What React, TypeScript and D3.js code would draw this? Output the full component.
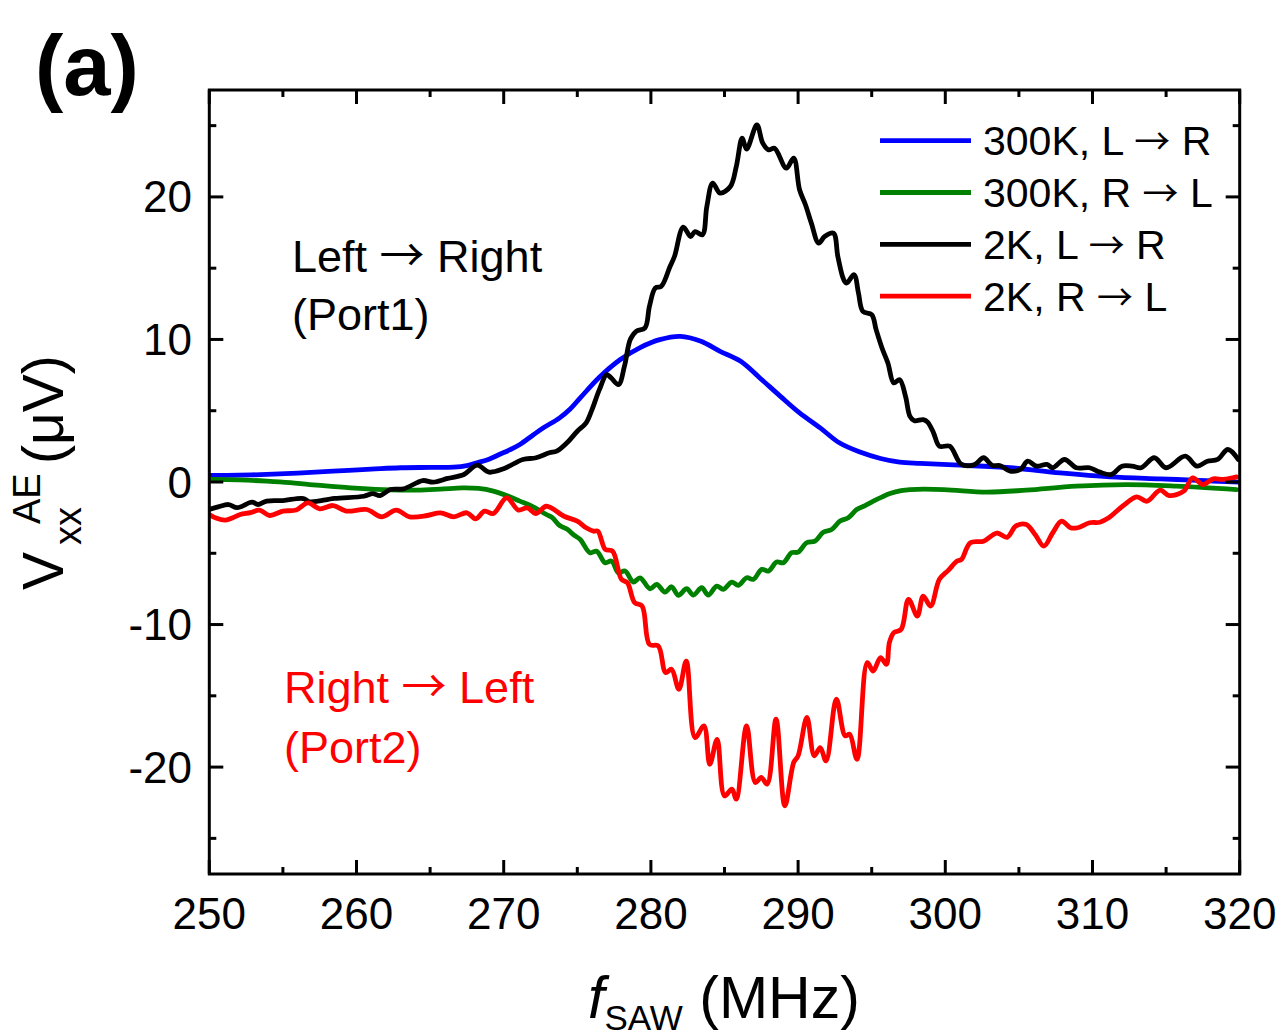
import React from "react";
import * as d3 from "d3";

// SAW-driven acoustoelectric voltage vs. frequency, four configurations.
// Each series: [frequency (MHz), V_xx^AE (µV)]
const blue300KLR: [number, number][] = [
  [250, 0.46], [252, 0.48], [253.9, 0.53], [256, 0.62], [258.4, 0.76], [261, 0.9],
  [263, 1.0], [265, 1.02], [266.6, 1.04], [267.5, 1.15], [268.2, 1.35], [269, 1.6],
  [269.7, 1.93], [270.4, 2.25], [271.1, 2.63], [272.0, 3.3], [272.7, 3.8], [273.8, 4.5],
  [274.5, 5.1], [275.2, 5.9], [276.5, 7.35], [277.9, 8.58], [279.3, 9.45], [280.6, 9.99],
  [282.0, 10.22], [283.4, 9.87], [284.7, 9.17], [286.1, 8.47], [287.4, 7.3], [288.8, 6.01],
  [290.1, 4.85], [291.5, 3.8], [292.8, 2.75], [294.2, 2.1], [295.6, 1.65], [296.9, 1.39],
  [298.3, 1.3], [301.0, 1.18], [304.4, 1.0], [307.8, 0.64], [311.2, 0.36], [314.6, 0.22],
  [316.8, 0.13], [320, -0.01],
];

const green300KRL: [number, number][] = [
  [250, 0.18], [252, 0.15], [253.9, 0.06], [255.5, -0.05], [256.8, -0.18], [258.3, -0.3],
  [259.6, -0.41], [261.8, -0.53], [264.1, -0.57], [265.7, -0.5], [267.2, -0.41], [268.3, -0.45],
  [269.3, -0.64], [270.2, -0.95], [271.1, -1.34], [272.0, -1.74], [272.9, -2.28], [273.3, -2.5],
  [273.8, -3.05], [274.3, -3.3], [274.8, -3.75], [275.2, -4.03], [275.86, -4.96], [276.32, -4.85],
  [276.88, -5.66], [277.33, -5.55], [277.79, -6.37], [278.24, -6.25], [278.81, -7.02], [279.26, -6.72],
  [279.94, -7.49], [280.39, -7.18], [280.96, -7.72], [281.41, -7.35], [281.86, -7.95], [282.43, -7.49],
  [282.88, -7.93], [283.45, -7.42], [283.9, -7.93], [284.47, -7.3], [284.92, -7.53], [285.49, -7.02],
  [285.94, -7.25], [286.51, -6.72], [286.96, -6.83], [287.53, -6.13], [287.98, -6.25], [288.54, -5.62],
  [289.0, -5.66], [289.56, -4.96], [290.0, -4.92], [290.58, -4.26], [291.15, -4.15], [291.71, -3.52],
  [292.28, -3.33], [292.85, -2.74], [293.41, -2.51], [293.98, -1.93], [294.55, -1.65], [295.11, -1.34],
  [295.68, -1.06], [296.24, -0.81], [297.0, -0.6], [297.6, -0.53], [299.9, -0.53], [302.8, -0.71],
  [305.5, -0.57], [308.9, -0.29], [312.3, -0.18], [315.7, -0.29], [319.8, -0.53],
];

const black2KLR: [number, number][] = [
  [250.0, -1.93], [250.6, -1.75], [251.3, -1.58], [251.9, -1.8], [252.9, -1.41], [253.3, -1.58],
  [253.9, -1.34], [255.0, -1.3], [256.4, -1.16], [256.8, -1.39], [258.5, -1.15], [260.5, -1.0],
  [261.1, -0.81], [261.6, -0.95], [262.3, -0.53], [263.2, -0.48], [264.5, 0.1], [265.2, -0.01],
  [266.2, 0.25], [267.3, 0.53], [268.2, 1.18], [269.0, 0.69], [270.0, 0.93], [271.3, 1.58],
  [272.2, 1.7], [273.1, 2.05], [273.6, 2.16], [274.3, 2.75], [275.0, 3.56], [275.6, 4.15],
  [276.0, 5.08], [276.5, 6.48], [277.0, 7.53], [277.3, 7.3], [277.8, 6.83], [278.2, 8.11],
  [278.6, 9.99], [279.0, 10.57], [279.6, 10.81], [279.9, 12.32], [280.3, 13.61], [280.7, 13.72],
  [281.3, 15.12], [281.6, 15.82], [282.2, 17.88], [282.7, 17.22], [283.0, 17.57], [283.5, 17.34],
  [283.8, 19.33], [284.2, 20.97], [284.7, 20.27], [285.4, 20.73], [285.8, 22.13], [286.2, 24.12],
  [286.5, 23.35], [287.2, 25.05], [287.6, 23.77], [288.0, 23.3], [288.4, 23.42], [289.2, 22.02],
  [289.7, 22.72], [290.1, 20.5], [290.5, 19.45], [290.9, 18.16], [291.4, 16.76], [291.8, 17.22],
  [292.4, 17.46], [292.7, 15.82], [293.1, 14.19], [293.3, 13.96], [293.8, 14.54], [294.1, 13.26],
  [294.4, 11.97], [295.0, 11.74], [295.3, 10.69], [295.7, 9.4], [296.1, 8.35], [296.5, 6.95],
  [296.9, 7.18], [297.3, 6.0], [297.6, 4.61], [297.9, 4.3], [298.5, 4.38], [298.8, 4.2],
  [299.2, 3.45], [299.6, 2.51], [300.3, 2.51], [301.1, 1.23], [302.0, 1.23], [302.6, 1.7],
  [303.2, 1.16], [303.7, 1.16], [304.4, 0.76], [305.1, 0.88], [305.6, 1.46], [306.2, 1.11],
  [306.9, 1.23], [307.3, 1.0], [308.1, 1.58], [308.9, 1.0], [309.8, 1.0], [310.5, 0.69],
  [311.3, 0.53], [312.0, 1.11], [312.7, 1.11], [313.3, 1.0], [314.2, 1.7], [315.0, 1.0],
  [316.3, 1.81], [317.1, 1.11], [317.8, 1.46], [318.5, 1.58], [319.2, 2.28], [319.9, 1.58],
];

const red2KRL: [number, number][] = [
  [250.0, -2.28], [250.5, -2.55], [251.1, -2.67], [251.6, -2.5], [252.1, -2.28], [252.8, -2.15],
  [253.4, -1.97], [254.1, -2.35], [255.0, -2.04], [255.9, -1.97], [256.7, -1.46], [257.5, -1.88],
  [258.4, -1.65], [259.3, -2.04], [260.7, -1.93], [261.7, -2.44], [262.7, -1.97], [263.6, -2.44],
  [264.8, -2.35], [265.7, -2.16], [266.6, -2.44], [267.5, -2.16], [268.1, -2.58], [268.7, -2.04],
  [269.3, -2.21], [270.2, -1.11], [271.0, -1.97], [271.6, -1.81], [272.2, -2.21], [272.9, -1.7],
  [274.1, -2.4], [275.0, -2.75], [275.6, -3.21], [276.1, -3.45], [276.4, -3.45], [276.9, -4.73],
  [277.4, -4.85], [278.0, -6.83], [278.4, -7.06], [278.9, -8.47], [279.4, -8.7], [279.9, -11.39],
  [280.5, -11.51], [281.0, -13.37], [281.4, -13.14], [281.9, -14.54], [282.4, -12.56], [283.0, -17.93],
  [283.6, -17.11], [284.0, -19.8], [284.5, -18.05], [285.0, -22.02], [285.5, -21.55], [285.8, -22.25],
  [286.5, -17.11], [287.1, -21.08], [287.5, -20.73], [287.9, -21.2], [288.5, -16.64], [289.1, -22.72],
  [289.7, -19.68], [290.0, -19.21], [290.6, -16.52], [291.1, -19.21], [291.5, -18.63], [291.9, -19.57],
  [292.6, -15.24], [293.2, -17.81], [293.5, -17.69], [294.0, -19.45], [294.7, -12.67], [295.1, -13.26],
  [295.6, -12.32], [296.0, -12.79], [296.2, -11.27], [296.5, -10.57], [297.0, -10.34], [297.5, -8.23],
  [298.1, -9.4], [298.5, -8.0], [299.0, -8.7], [299.6, -6.83], [300.2, -6.2], [300.8, -5.55],
  [301.1, -5.43], [301.7, -4.26], [302.6, -4.15], [303.5, -3.58], [304.2, -3.88], [304.8, -3.08],
  [305.5, -2.98], [306.1, -3.68], [306.7, -4.5], [307.3, -3.56], [307.9, -2.75], [308.5, -3.21],
  [309.0, -3.21], [309.8, -2.86], [310.5, -2.82], [311.1, -2.51], [312.1, -1.65], [313.0, -1.04],
  [313.7, -1.35], [314.6, -0.57], [315.2, -0.95], [316.2, -0.64], [316.8, 0.29], [317.5, -0.18],
  [318.2, 0.22], [318.9, 0.18], [319.8, 0.36],
];

const seriesLabels: [string, string][] = [
  ["300K, L", "R"],
  ["300K, R", "L"],
  ["2K, L", "R"],
  ["2K, R", "L"],
];
const seriesColors = ["#0000ff", "#008000", "#000000", "#ff0000"];
const seriesData = [blue300KLR, green300KRL, black2KLR, red2KRL];

const xMajorTicks = [250, 260, 270, 280, 290, 300, 310, 320];
const xMinorTicks = [255, 265, 275, 285, 295, 305, 315];
const yMajorTicks = [-20, -10, 0, 10, 20];
const yMinorTicks = [-25, -15, -5, 5, 15, 25];

const FONT = "'Liberation Sans', Arial, Helvetica, sans-serif";
const ARROW_FONT = "'Noto Sans CJK SC', 'DejaVu Sans', sans-serif";
const ARROW = "\u2192";

function Arrow({ size }: { size: number }) {
  return (
    <tspan fontFamily={ARROW_FONT} fontSize={size}>
      {ARROW}
    </tspan>
  );
}

export default function App() {
  const left = 209.3, right = 1239.7, top = 90, bottom = 874;
  const x = d3.scaleLinear().domain([250, 320]).range([left, right]);
  const y = d3.scaleLinear().domain([-27.5, 27.5]).range([bottom, top]);
  const line = d3
    .line<[number, number]>()
    .x((d) => x(d[0]))
    .y((d) => y(d[1]))
    .curve(d3.curveCatmullRom.alpha(0.5));

  const majorLen = 14;
  const minorLen = 7;
  const tickW = 3;

  return (
    <svg
      width={1281}
      height={1036}
      style={{ position: "absolute", left: 0, top: 0, background: "#fff" }}
      fontFamily={FONT}
    >
      <defs>
        <clipPath id="plotClip">
          <rect x={left} y={top} width={right - left} height={bottom - top} />
        </clipPath>
      </defs>
      <rect x={0} y={0} width={1281} height={1036} fill="#fff" />

      {/* data lines */}
      <g clipPath="url(#plotClip)">
        {seriesData.map((s, i) => (
          <path
            key={i}
            d={line(s) || ""}
            fill="none"
            stroke={seriesColors[i]}
            strokeWidth={4.8}
            strokeLinejoin="round"
            strokeLinecap="round"
          />
        ))}
      </g>

      {/* ticks on all four sides, pointing inward */}
      <g stroke="#000" strokeWidth={tickW}>
        {xMajorTicks.map((t) => (
          <g key={"xM" + t}>
            <line x1={x(t)} x2={x(t)} y1={bottom} y2={bottom - majorLen} />
            <line x1={x(t)} x2={x(t)} y1={top} y2={top + majorLen} />
          </g>
        ))}
        {xMinorTicks.map((t) => (
          <g key={"xm" + t}>
            <line x1={x(t)} x2={x(t)} y1={bottom} y2={bottom - minorLen} />
            <line x1={x(t)} x2={x(t)} y1={top} y2={top + minorLen} />
          </g>
        ))}
        {yMajorTicks.map((t) => (
          <g key={"yM" + t}>
            <line x1={left} x2={left + majorLen} y1={y(t)} y2={y(t)} />
            <line x1={right} x2={right - majorLen} y1={y(t)} y2={y(t)} />
          </g>
        ))}
        {yMinorTicks.map((t) => (
          <g key={"ym" + t}>
            <line x1={left} x2={left + minorLen} y1={y(t)} y2={y(t)} />
            <line x1={right} x2={right - minorLen} y1={y(t)} y2={y(t)} />
          </g>
        ))}
      </g>

      {/* frame */}
      <rect
        x={left}
        y={top}
        width={right - left}
        height={bottom - top}
        fill="none"
        stroke="#000"
        strokeWidth={3}
      />

      {/* tick labels */}
      <g fontSize={44} fill="#000">
        {xMajorTicks.map((t) => (
          <text key={"xl" + t} x={x(t)} y={929} textAnchor="middle">
            {t}
          </text>
        ))}
        {yMajorTicks.map((t) => (
          <text key={"yl" + t} x={192} y={y(t) + 15.5} textAnchor="end">
            {t}
          </text>
        ))}
      </g>

      {/* axis titles */}
      <text x={588} y={1018} fontSize={59} fill="#000">
        <tspan fontStyle="italic">f</tspan>
        <tspan fontSize={35} dy={12}>SAW</tspan>
        <tspan dy={-12}> (MHz)</tspan>
      </text>
      <g transform="rotate(-90)" fill="#000">
        <text x={-590} y={63} fontSize={57}>V</text>
        <text x={-545} y={81} fontSize={38}>xx</text>
        <text x={-524} y={40} fontSize={38}>AE</text>
        <text x={-464} y={63} fontSize={57}>({"\u03bc"}V)</text>
      </g>

      {/* panel label */}
      <text x={35} y={95} fontSize={85} fontWeight="bold" fill="#000">
        (a)
      </text>

      {/* in-plot annotations */}
      <g fontSize={45}>
        <text x={292} y={272} fill="#000">
          Left <Arrow size={45} /> Right
        </text>
        <text x={292} y={330} fill="#000">(Port1)</text>
        <text x={284} y={703} fill="#ff0000">
          Right <Arrow size={45} /> Left
        </text>
        <text x={284} y={763} fill="#ff0000">(Port2)</text>
      </g>

      {/* legend */}
      <g>
        {seriesLabels.map((lab, i) => {
          const ly = 140.7 + i * 51.8;
          return (
            <g key={lab.join()}>
              <line x1={880} x2={971} y1={ly} y2={ly} stroke={seriesColors[i]} strokeWidth={4.8} />
              <text x={983} y={ly + 14.5} fontSize={41} fill="#000">
                {lab[0]} <Arrow size={36} /> {lab[1]}
              </text>
            </g>
          );
        })}
      </g>
    </svg>
  );
}
